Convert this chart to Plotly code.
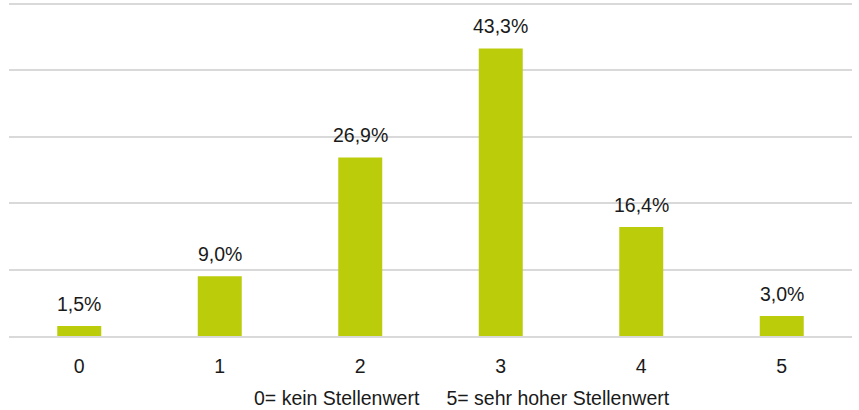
import plotly.graph_objects as go

categories = ["0", "1", "2", "3", "4", "5"]
values = [1.5, 9.0, 26.9, 43.3, 16.4, 3.0]
labels = ["1,5%", "9,0%", "26,9%", "43,3%", "16,4%", "3,0%"]
axis_note = "0= kein Stellenwert     5= sehr hoher Stellenwert"

FONT = "Liberation Sans Narrow, Arial Narrow, Liberation Sans, Arial, sans-serif"
FS = 19.5
COL = "#1a1a1a"

fig = go.Figure(go.Bar(
    x=categories, y=values,
    marker=dict(color="#BBCC0A", line=dict(width=0)),
    width=0.313, hoverinfo="skip",
))

annotations = [
    dict(x=c, y=v, text=t, xref="x", yref="y", showarrow=False,
         xanchor="center", yanchor="bottom", yshift=9,
         font=dict(family=FONT, size=FS, color=COL))
    for c, v, t in zip(categories, values, labels)
]
annotations.append(dict(text=axis_note, xref="paper", yref="paper", x=0.537, y=0,
                        yshift=-62, showarrow=False, xanchor="center", yanchor="middle",
                        font=dict(family=FONT, size=FS, color=COL)))

fig.update_layout(
    width=859, height=410,
    margin=dict(l=9, r=7, t=0, b=74),
    plot_bgcolor="white", paper_bgcolor="white",
    showlegend=False,
    font=dict(family=FONT, size=FS, color=COL),
    xaxis=dict(type="category", showgrid=False, showline=True, linecolor="#D9D9D9",
               linewidth=2, ticks="", tickfont=dict(family=FONT, size=FS, color=COL),
               ticklabelstandoff=12, automargin=False),
    yaxis=dict(range=[0, 50.6], tickvals=[10, 20, 30, 40, 50], showgrid=True,
               gridcolor="#D9D9D9", gridwidth=2, showticklabels=False,
               zeroline=False, showline=False, automargin=False),
    annotations=annotations,
)

fig.write_html("out.html", config={"displayModeBar": False},
               post_script="document.body.style.margin='0';")
